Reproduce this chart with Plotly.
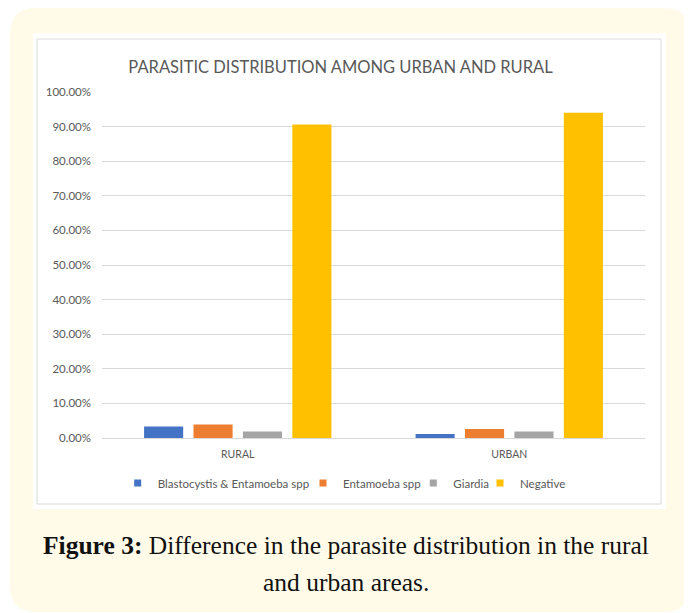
import plotly.graph_objects as go

# ---- data ----
categories = ["RURAL", "URBAN"]
series_names = ["Blastocystis & Entamoeba spp", "Entamoeba spp", "Giardia", "Negative"]
blasto_entamoeba = [0.0335, 0.0115]
entamoeba = [0.039, 0.026]
giardia = [0.019, 0.019]
negative = [0.906, 0.940]
series_values = [blasto_entamoeba, entamoeba, giardia, negative]
series_colors = ["#4472C4", "#ED7D31", "#A5A5A5", "#FFC000"]
y_ticks = [i / 10 for i in range(11)]

title_text = "PARASITIC DISTRIBUTION AMONG URBAN AND RURAL"
caption_1 = "<b>Figure 3:</b> Difference in the parasite distribution in the rural"
caption_2 = "and urban areas."

# ---- layout geometry (reference-pixel coordinates; page body has an 8px margin) ----
OFF = 8
W, H = 692 - OFF, 613 - OFF
RPL, RPR, RPT, RPB = 102, 645, 92, 438  # plot area in reference pixels
PL, PR, PT, PB = RPL - OFF, RPR - OFF, RPT - OFF, RPB - OFF


def xp(px):
    return (px - RPL) / (RPR - RPL)


def yp(py):
    return (RPB - py) / (RPB - RPT)


FONT = "Lato, Open Sans, sans-serif"
GRAY = "#595959"

fig = go.Figure()
for name, vals, col in zip(series_names, series_values, series_colors):
    fig.add_trace(go.Bar(x=categories, y=vals, name=name, marker_color=col,
                         marker_line_width=0, showlegend=False))

legend_text_starts = [152.7, 338, 448.3, 515]
legend_ids = ["legend", "legend2", "legend3", "legend4"]
for name, col, lid in zip(series_names, series_colors, legend_ids):
    fig.add_trace(go.Scatter(x=[None], y=[None], mode="markers", name=name,
                             marker=dict(symbol="square", size=7, color=col),
                             showlegend=True, legend=lid))


def rounded_path(x0, y0, x1, y1, r):
    X = lambda v: xp(v)
    Y = lambda v: yp(v)
    return (f"M{X(x0 + r)},{Y(y0)} L{X(x1 - r)},{Y(y0)} Q{X(x1)},{Y(y0)} {X(x1)},{Y(y0 + r)} "
            f"L{X(x1)},{Y(y1 - r)} Q{X(x1)},{Y(y1)} {X(x1 - r)},{Y(y1)} "
            f"L{X(x0 + r)},{Y(y1)} Q{X(x0)},{Y(y1)} {X(x0)},{Y(y1 - r)} "
            f"L{X(x0)},{Y(y0 + r)} Q{X(x0)},{Y(y0)} {X(x0 + r)},{Y(y0)} Z")


shapes = [
    dict(type="path", xref="paper", yref="paper", path=rounded_path(10, 8, 690, 612, 26),
         fillcolor="#FFFBE8", line=dict(width=0), layer="below"),
    dict(type="rect", xref="paper", yref="paper", x0=xp(33), x1=xp(666), y0=yp(33), y1=yp(509),
         fillcolor="white", line=dict(width=0), layer="below"),
    dict(type="rect", xref="paper", yref="paper", x0=xp(37), x1=xp(661), y0=yp(39), y1=yp(504),
         fillcolor="white", line=dict(width=1, color="#D9D9D9"), layer="below"),
]

annotations = [
    dict(text=caption_1, xref="paper", yref="paper", x=xp(345.5), y=yp(545),
         xanchor="center", yanchor="middle", showarrow=False,
         font=dict(family="Liberation Serif, serif", size=25.5, color="#111111")),
    dict(text=caption_2, xref="paper", yref="paper", x=xp(345.5), y=yp(582),
         xanchor="center", yanchor="middle", showarrow=False,
         font=dict(family="Liberation Serif, serif", size=25.5, color="#111111")),
]

legend_common = dict(orientation="h", xref="paper", yref="paper", xanchor="left",
                     yanchor="middle", bgcolor="rgba(0,0,0,0)", borderwidth=0,
                     font=dict(family=FONT, size=11.5, color=GRAY), itemwidth=30)
legends = {}
for lid, ts in zip(legend_ids, legend_text_starts):
    legends[lid] = dict(legend_common, x=xp(ts + 5 - 40), y=yp(483))

fig.update_layout(
    width=W, height=H,
    margin=dict(l=PL, r=W - PR, t=PT, b=H - PB, pad=0),
    paper_bgcolor="white",
    plot_bgcolor="rgba(0,0,0,0)",
    barmode="group", bargap=0.272, bargroupgap=0.209,
    title=dict(text=title_text, xref="container", yref="container",
               x=(340.5 - OFF) / W, y=1 - (67 - OFF) / H, xanchor="center", yanchor="middle",
               font=dict(family=FONT, size=16.5, color=GRAY)),
    xaxis=dict(showgrid=False, showline=False, ticks="", zeroline=False,
               tickfont=dict(family=FONT, size=10.5, color=GRAY), ticklabelstandoff=8),
    yaxis=dict(range=[0, 1], tickvals=y_ticks, tickformat=".2%",
               showgrid=True, gridcolor="#D9D9D9", gridwidth=1,
               zeroline=True, zerolinecolor="#D9D9D9", zerolinewidth=1,
               showline=False, ticks="", ticklabelstandoff=10,
               tickfont=dict(family=FONT, size=11.5, color=GRAY)),
    shapes=shapes,
    annotations=annotations,
    showlegend=True,
    **legends,
)

fig.write_html("out.html")
